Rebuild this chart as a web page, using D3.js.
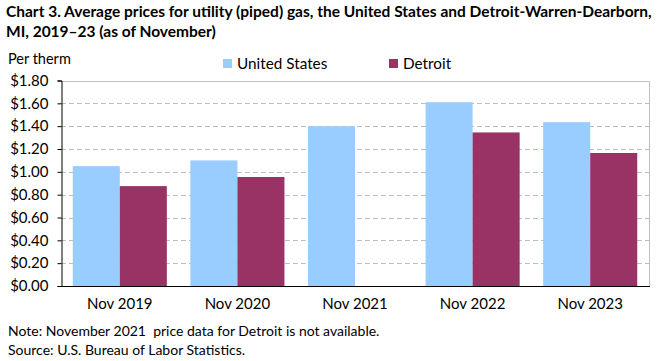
<!DOCTYPE html>
<html>
<head>
<meta charset="utf-8">
<script src="https://cdn.jsdelivr.net/npm/d3@7"></script>
<style>
body { margin: 0; background: #fff; }
text { font-family: Lato, "Open Sans", sans-serif; fill: #000; }
</style>
</head>
<body>
<svg id="chart" width="661" height="361"></svg>
<script>
var categories = ["Nov 2019", "Nov 2020", "Nov 2021", "Nov 2022", "Nov 2023"];
var seriesNames = ["United States", "Detroit"];
var usValues = [1.05, 1.10, 1.40, 1.61, 1.435];
var detroitValues = [0.875, 0.955, null, 1.345, 1.165];
var yTicks = [0, 0.2, 0.4, 0.6, 0.8, 1.0, 1.2, 1.4, 1.6, 1.8];
var colors = ["#99ccff", "#993366"];

var svg = d3.select("#chart");
var plotLeft = 61, plotRight = 649, plotTop = 80.5, plotBottom = 286;

var x = d3.scaleBand().domain(categories).range([plotLeft, plotRight]).paddingInner(0.2).paddingOuter(0.1);
var xs = d3.scaleBand().domain(seriesNames).range([0, x.bandwidth()]);
var y = d3.scaleLinear().domain([0, 1.8]).range([plotBottom, plotTop]);

// title
svg.append("text").attr("x", 6).attr("y", 17).style("font-weight", "bold").style("font-size", "15.5px")
  .text("Chart 3. Average prices for utility (piped) gas, the United States and Detroit-Warren-Dearborn,");
svg.append("text").attr("x", 6).attr("y", 37).style("font-weight", "bold").style("font-size", "15.5px")
  .text("MI, 2019\u201323 (as of November)");

svg.append("text").attr("x", 8).attr("y", 64).style("font-size", "14.5px").text("Per therm");

// gridlines
svg.selectAll(".grid")
  .data(yTicks.filter(function (d) { return d > 0 && d < 1.8 }))
  .enter().append("line")
  .attr("x1", plotLeft).attr("x2", plotRight)
  .attr("y1", function (d) { return Math.round(y(d)) + 0.5 })
  .attr("y2", function (d) { return Math.round(y(d)) + 0.5 })
  .attr("stroke", "#bfbfbf").attr("stroke-dasharray", "5,3")

// plot border top/right
svg.append("path")
  .attr("d", "M" + plotLeft + "," + (Math.round(plotTop) + 0.5) + "H" + (plotRight + 0.5) + "V" + plotBottom)
  .attr("fill", "none").attr("stroke", "#bfbfbf")

// bars
var groups = svg.selectAll(".grp").data(categories).enter().append("g")
  .attr("transform", function (d) { return "translate(" + x(d) + ",0)" });

groups.selectAll("rect")
  .data(function (d, i) { return [{ s: seriesNames[0], v: usValues[i] }, { s: seriesNames[1], v: detroitValues[i] }] })
  .enter().append("rect")
  .filter(function (d) { return d.v != null })
  .attr("x", function (d) { return xs(d.s) })
  .attr("width", xs.bandwidth())
  .attr("y", function (d) { return y(d.v) })
  .attr("height", function (d) { return plotBottom - y(d.v) })
  .attr("fill", function (d) { return d.s == seriesNames[0] ? colors[0] : colors[1] })

// y axis
var yAxis = svg.append("g").attr("transform", "translate(" + (plotLeft + 0.5) + ",0)")
  .call(d3.axisLeft(y).tickValues(yTicks).tickSize(4).tickPadding(9).tickFormat(function (d) { return "$" + d.toFixed(2) }));
yAxis.select(".domain").attr("stroke", "#000");
yAxis.selectAll("text").style("font-size", "15px").attr("font-family", null);

// x axis
var xAxis = svg.append("g").attr("transform", "translate(0," + (plotBottom + 0.5) + ")")
  .call(d3.axisBottom(x).tickSize(0).tickPadding(12));
xAxis.select(".domain").attr("stroke", "#000").attr("d", "M" + plotLeft + ",0H" + (plotRight + 1));
xAxis.selectAll("text").style("font-size", "15px").attr("font-family", null);

// legend
var lx = [223, 389];
svg.selectAll(".lg").data(seriesNames).enter().append("rect")
  .attr("x", function (d, i) { return lx[i] }).attr("y", 59).attr("width", 9).attr("height", 9)
  .attr("fill", function (d, i) { return colors[i] })
svg.selectAll(".lt").data(seriesNames).enter().append("text")
  .attr("x", function (d, i) { return lx[i] + 14 }).attr("y", 69)
  .style("font-size", "15.3px").text(function (d) { return d })

// notes
svg.append("text").attr("x", 8).attr("y", 336).style("font-size", "14px").style("white-space", "pre")
  .text("Note: November 2021  price data for Detroit is not available.");
svg.append("text").attr("x", 8).attr("y", 355).style("font-size", "14px")
  .text("Source: U.S. Bureau of Labor Statistics.");
</script>
</body>
</html>
